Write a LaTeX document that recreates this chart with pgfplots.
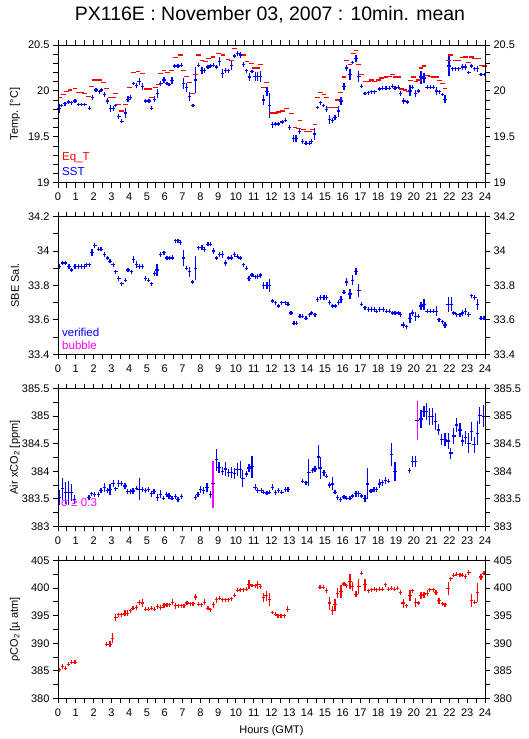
\documentclass[border=0pt]{standalone}
\usepackage{fontspec}
\setmainfont{Liberation Sans}
\usepackage{pgfplots}
\pgfplotsset{compat=1.18}
\definecolor{pblue}{rgb}{0,0,1}
\definecolor{pred}{rgb}{1,0,0}
\definecolor{pmag}{rgb}{1,0,1}
\tikzset{leg/.style={anchor=west, inner sep=0pt, font=\fontsize{11.5}{12}\selectfont}}
\pgfplotsset{
  panel/.style={
    scale only axis, width=427pt, height=137.7pt, anchor=south west,
    xmin=0, xmax=24, xtick={0,...,24}, minor x tick num=1,
    tick align=outside, major tick length=5pt, minor tick length=5pt,
    every tick/.style={black, line width=0.9pt},
    every minor tick/.style={black, line width=0.9pt},
    axis line style={line width=0.9pt},
    every tick label/.append style={font=\fontsize{11}{11}\selectfont},
    xticklabel style={yshift=-2pt},
    /pgf/number format/assume math mode=true,
    scaled ticks=false,
    every axis y label/.style={at={(axis description cs:-0.1007,0.5)}, rotate=90, anchor=center, font=\fontsize{11}{12}\selectfont},
  },
  rlab/.style={yticklabel pos=right, xticklabels={}},
  p1/.style={ymin=19, ymax=20.5, ytick={19,19.5,20,20.5}, minor y tick num=4},
  p2/.style={ymin=33.4, ymax=34.2, ytick={33.4,33.6,33.8,34,34.2}, minor y tick num=1},
  p3/.style={ymin=383, ymax=385.5, ytick={383,383.5,384,384.5,385,385.5}, minor y tick num=1},
  p4/.style={ymin=380, ymax=405, ytick={380,385,390,395,400,405}, minor y tick num=1},
  errp/.style={only marks, mark=-, mark size=1.7pt, line width=1.25pt,
    error bars/.cd, y dir=both, y explicit, error mark=none, error bar style={line width=1.25pt}},
}
\begin{document}
\begin{tikzpicture}
\useasboundingbox (0,0) rectangle (529pt,739pt);
\node[font=\fontsize{19.5}{20}\selectfont] at (270pt,724pt) {PX116E : November 03, 2007 : 10min. mean};

% ---------------- Panel 1
\begin{axis}[panel, p1, at={(58pt,556.3pt)}, ylabel={Temp. [°C]}]
\addplot[pred, only marks, mark=-, mark size=2.4pt, line width=1.25pt] table {
0.11 19.93
0.30 19.96
0.49 19.99
0.67 20.01
0.95 20.03
1.14 19.98
1.33 19.98
1.51 19.97
1.70 19.94
1.89 20.05
2.07 20.12
2.32 20.12
2.54 20.09
2.73 20.03
2.92 19.93
3.10 19.93
3.23 19.97
3.42 19.85
3.59 19.78
3.78 19.85
4.00 20.04
4.26 20.20
4.50 20.21
4.75 20.19
4.97 20.02
5.16 20.02
5.27 19.93
5.46 20.04
5.63 20.07
5.78 20.19
5.96 20.22
6.15 20.20
6.37 20.22
6.62 20.36
6.88 20.39
7.07 20.22
7.21 20.16
7.40 20.09
7.55 19.97
7.74 20.18
7.91 20.39
8.09 20.33
8.28 20.32
8.47 20.35
8.71 20.37
9.03 20.41
9.27 20.39
9.55 20.34
9.74 20.33
9.93 20.46
10.15 20.495
10.43 20.39
10.62 20.32
10.86 20.30
11.04 20.25
11.23 20.25
11.38 20.29
11.55 20.04
11.74 20.09
12.02 19.76
12.22 19.76
12.41 19.77
12.64 19.78
12.86 19.81
13.13 19.75
13.32 19.60
13.51 19.59
13.60 19.68
13.79 19.58
13.97 19.56
14.16 19.56
14.31 19.58
14.44 19.63
14.59 19.93
14.76 19.98
14.95 19.96
15.10 19.93
15.28 19.82
15.47 19.82
15.60 19.82
15.70 19.90
15.88 19.98
16.07 20.15
16.22 20.33
16.41 20.29
16.60 20.41
16.75 20.44
16.91 20.29
17.06 20.18
17.25 20.10
17.44 20.10
17.63 20.12
17.81 20.10
18.00 20.12
18.19 20.14
18.43 20.15
18.62 20.16
18.79 20.18
18.94 20.15
19.12 20.15
19.31 20.02
19.50 20.01
19.69 19.99
19.82 20.11
19.97 20.15
20.12 20.10
20.25 20.12
20.40 20.25
20.57 20.27
20.75 20.17
20.94 20.16
21.12 20.15
21.28 20.15
21.43 20.11
21.60 20.08
21.75 20.03
21.97 20.33
22.06 20.39
22.31 20.33
22.53 20.33
22.74 20.36
22.91 20.37
23.09 20.31
23.24 20.37
23.43 20.35
23.62 20.35
23.81 20.28
23.96 20.27
};
\addplot[pblue, errp] table[x index=0, y index=1, y error index=2] {
0.06 19.81 0.05
0.21 19.84 0.02
0.39 19.86 0.02
0.58 19.88 0.02
0.77 19.87 0.02
0.95 19.89 0.02
1.14 19.85 0.02
1.33 19.85 0.02
1.51 19.85 0.02
1.76 19.81 0.02
1.94 19.93 0.03
2.13 20.01 0.02
2.32 19.99 0.02
2.45 20.01 0.02
2.60 19.96 0.03
2.77 19.89 0.03
2.95 19.81 0.04
3.10 19.81 0.03
3.23 19.84 0.02
3.42 19.72 0.03
3.59 19.67 0.02
3.78 19.76 0.05
3.94 19.91 0.03
4.09 19.93 0.03
4.26 20.08 0.02
4.41 20.06 0.03
4.56 20.10 0.04
4.75 20.05 0.04
4.93 19.89 0.02
5.12 19.89 0.02
5.25 19.81 0.02
5.44 19.91 0.03
5.59 19.97 0.05
5.78 20.08 0.03
5.96 20.12 0.03
6.13 20.08 0.02
6.24 20.07 0.02
6.41 20.11 0.04
6.56 20.27 0.02
6.75 20.27 0.02
6.93 20.28 0.02
7.07 20.08 0.06
7.21 20.04 0.05
7.40 19.94 0.05
7.59 19.84 0.02
7.74 20.12 0.14
7.91 20.28 0.02
8.09 20.22 0.04
8.24 20.22 0.03
8.43 20.26 0.02
8.58 20.27 0.02
8.75 20.28 0.02
8.90 20.26 0.02
9.08 20.32 0.05
9.23 20.19 0.05
9.42 20.22 0.03
9.59 20.22 0.02
9.74 20.28 0.05
9.93 20.38 0.02
10.11 20.41 0.03
10.26 20.39 0.03
10.43 20.29 0.03
10.58 20.22 0.02
10.77 20.15 0.04
10.90 20.21 0.02
11.08 20.16 0.05
11.23 20.16 0.05
11.38 20.16 0.06
11.55 19.90 0.05
11.74 19.99 0.05
11.89 19.84 0.14
12.04 19.63 0.03
12.22 19.64 0.02
12.41 19.64 0.02
12.60 19.66 0.02
12.79 19.68 0.02
13.00 19.60 0.03
13.22 19.48 0.04
13.37 19.48 0.04
13.56 19.56 0.03
13.75 19.45 0.03
13.94 19.43 0.02
14.12 19.43 0.02
14.25 19.45 0.03
14.40 19.53 0.07
14.59 19.82 0.02
14.76 19.87 0.02
14.91 19.84 0.02
15.10 19.80 0.03
15.25 19.69 0.05
15.42 19.68 0.03
15.57 19.71 0.03
15.75 19.78 0.06
15.90 19.89 0.04
16.07 20.05 0.04
16.22 20.25 0.03
16.41 20.18 0.06
16.56 20.31 0.02
16.75 20.35 0.04
16.91 20.16 0.06
17.06 20.05 0.02
17.25 19.97 0.02
17.44 19.98 0.02
17.63 19.99 0.02
17.81 19.99 0.02
18.06 20.02 0.02
18.24 20.03 0.02
18.43 20.03 0.02
18.62 20.03 0.02
18.79 20.05 0.02
18.94 20.03 0.02
19.12 20.04 0.02
19.25 19.97 0.03
19.44 19.89 0.03
19.63 19.88 0.02
19.78 20.00 0.06
19.93 20.04 0.02
20.10 19.97 0.04
20.25 20.00 0.02
20.40 20.15 0.07
20.57 20.14 0.05
20.75 20.04 0.02
20.94 20.04 0.02
21.09 20.04 0.02
21.28 20.00 0.04
21.43 19.99 0.02
21.60 19.96 0.02
21.75 19.91 0.04
21.97 20.27 0.11
22.16 20.24 0.02
22.34 20.24 0.02
22.53 20.24 0.02
22.72 20.26 0.03
22.91 20.26 0.03
23.09 20.20 0.02
23.24 20.27 0.02
23.43 20.24 0.02
23.58 20.24 0.03
23.77 20.18 0.02
23.96 20.18 0.02
};
\node[leg, text=pred] at (axis description cs:0.0094,0.179) {Eq\_T};
\node[leg, text=pblue] at (axis description cs:0.0094,0.078) {SST};
\end{axis}
\begin{axis}[panel, p1, rlab, at={(58pt,556.3pt)}]
\end{axis}

% ---------------- Panel 2
\begin{axis}[panel, p2, at={(58pt,384.7pt)}, ylabel={SBE Sal.}]
\addplot[pblue, errp] table[x index=0, y index=1, y error index=2] {
0.07 33.91 0.012
0.24 33.93 0.012
0.43 33.93 0.012
0.62 33.91 0.012
0.77 33.89 0.012
0.95 33.91 0.012
1.14 33.91 0.012
1.33 33.91 0.012
1.48 33.91 0.012
1.61 33.92 0.012
1.76 33.92 0.012
1.91 33.99 0.02
2.07 34.03 0.015
2.26 34.01 0.012
2.41 34.01 0.012
2.60 33.98 0.012
2.77 33.96 0.012
2.92 33.94 0.012
3.10 33.92 0.012
3.25 33.88 0.012
3.42 33.84 0.012
3.59 33.81 0.012
3.78 33.83 0.012
3.94 33.89 0.012
4.13 33.88 0.012
4.26 33.95 0.02
4.41 33.92 0.02
4.56 33.91 0.015
4.75 33.91 0.015
4.92 33.84 0.015
5.10 33.83 0.012
5.25 33.81 0.012
5.44 33.87 0.015
5.57 33.89 0.035
5.76 33.98 0.015
5.96 33.99 0.012
6.13 33.96 0.012
6.28 33.96 0.012
6.43 33.96 0.015
6.60 34.06 0.012
6.75 34.06 0.012
6.90 34.05 0.015
7.07 33.96 0.045
7.21 33.90 0.012
7.40 33.88 0.03
7.55 33.82 0.012
7.74 33.90 0.07
7.91 34.02 0.012
8.09 34.02 0.015
8.24 34.01 0.015
8.43 34.04 0.012
8.58 34.04 0.012
8.75 34.00 0.015
8.90 33.96 0.012
9.08 33.98 0.015
9.23 33.98 0.02
9.42 33.93 0.015
9.59 33.96 0.012
9.74 33.96 0.015
9.93 33.98 0.012
10.07 33.97 0.012
10.24 33.96 0.012
10.43 33.92 0.012
10.58 33.90 0.012
10.73 33.84 0.015
10.90 33.86 0.012
11.08 33.85 0.012
11.23 33.85 0.015
11.38 33.86 0.015
11.55 33.80 0.02
11.74 33.80 0.02
11.89 33.80 0.04
12.04 33.71 0.012
12.22 33.70 0.012
12.41 33.68 0.012
12.58 33.70 0.012
12.77 33.70 0.012
12.93 33.69 0.012
13.09 33.64 0.012
13.26 33.58 0.012
13.41 33.58 0.012
13.60 33.62 0.012
13.75 33.62 0.012
13.94 33.61 0.012
14.12 33.63 0.012
14.25 33.64 0.012
14.44 33.63 0.012
14.59 33.72 0.015
14.76 33.73 0.012
14.95 33.73 0.012
15.10 33.73 0.015
15.25 33.70 0.015
15.43 33.68 0.012
15.60 33.68 0.012
15.75 33.70 0.015
15.90 33.72 0.02
16.07 33.76 0.012
16.22 33.82 0.025
16.41 33.75 0.03
16.56 33.83 0.03
16.75 33.88 0.02
16.91 33.77 0.04
17.06 33.69 0.012
17.25 33.67 0.012
17.44 33.66 0.012
17.63 33.66 0.012
17.78 33.66 0.012
17.91 33.65 0.012
18.09 33.66 0.012
18.28 33.66 0.012
18.47 33.65 0.012
18.62 33.65 0.012
18.79 33.64 0.012
18.94 33.64 0.012
19.12 33.64 0.012
19.25 33.63 0.015
19.40 33.57 0.015
19.59 33.56 0.012
19.78 33.61 0.03
19.93 33.64 0.015
20.10 33.62 0.025
20.25 33.62 0.012
20.40 33.68 0.025
20.57 33.69 0.03
20.75 33.65 0.012
20.94 33.65 0.012
21.09 33.65 0.012
21.28 33.65 0.03
21.41 33.60 0.012
21.60 33.59 0.012
21.75 33.57 0.015
21.93 33.69 0.045
22.12 33.69 0.04
22.25 33.64 0.012
22.40 33.63 0.012
22.59 33.63 0.012
22.74 33.64 0.015
22.91 33.65 0.02
23.09 33.63 0.015
23.24 33.74 0.012
23.43 33.73 0.012
23.58 33.69 0.03
23.77 33.61 0.012
23.94 33.61 0.012
};
\node[leg, text=pblue] at (axis description cs:0.0094,0.162) {verified};
\node[leg, text=pmag] at (axis description cs:0.0094,0.068) {bubble};
\end{axis}
\begin{axis}[panel, p2, rlab, at={(58pt,384.7pt)}]
\end{axis}

% ---------------- Panel 3
\begin{axis}[panel, p3, at={(58pt,212.7pt)}, ylabel={Air xCO\textsubscript{2} [ppm]}]
\addplot[pblue, errp] table[x index=0, y index=1, y error index=2] {
0.07 383.52 0.14
0.26 383.68 0.2
0.43 383.61 0.2
0.58 383.61 0.22
0.77 383.61 0.15
0.92 383.48 0.08
1.74 383.52 0.04
1.89 383.59 0.04
2.04 383.58 0.04
2.26 383.58 0.04
2.41 383.65 0.04
2.60 383.70 0.08
2.77 383.65 0.04
2.92 383.67 0.1
3.10 383.78 0.06
3.25 383.68 0.04
3.42 383.78 0.06
3.57 383.78 0.04
3.76 383.73 0.05
3.91 383.63 0.05
4.07 383.63 0.04
4.22 383.64 0.05
4.41 383.69 0.04
4.56 383.67 0.2
4.75 383.67 0.04
4.93 383.65 0.04
5.10 383.67 0.04
5.25 383.59 0.05
5.40 383.63 0.05
5.59 383.52 0.06
5.76 383.58 0.07
5.94 383.51 0.04
6.09 383.58 0.04
6.24 383.55 0.05
6.41 383.51 0.04
6.60 383.54 0.04
6.75 383.49 0.04
6.93 383.54 0.04
7.72 383.52 0.04
7.87 383.58 0.05
8.02 383.67 0.07
8.19 383.65 0.06
8.37 383.70 0.08
8.56 383.58 0.06
8.90 384.21 0.2
9.05 384.07 0.1
9.23 384.00 0.07
9.40 384.04 0.12
9.59 383.97 0.07
9.74 383.97 0.1
9.93 383.96 0.1
10.07 384.03 0.12
10.24 384.03 0.15
10.39 383.87 0.15
10.58 383.95 0.05
10.73 384.06 0.07
10.90 384.08 0.2
11.08 383.71 0.05
11.23 383.65 0.04
11.42 383.65 0.04
11.57 383.62 0.04
11.74 383.60 0.04
11.89 383.62 0.04
12.04 383.71 0.05
12.22 383.61 0.04
12.41 383.65 0.04
12.58 383.62 0.04
12.77 383.67 0.05
12.93 383.67 0.04
13.75 383.82 0.04
13.94 383.79 0.04
14.10 383.98 0.25
14.29 384.01 0.05
14.44 384.04 0.05
14.63 384.26 0.22
14.76 384.06 0.2
14.95 383.97 0.05
15.10 383.91 0.04
15.25 383.75 0.06
15.42 383.77 0.12
15.57 383.62 0.04
15.72 383.52 0.05
15.88 383.49 0.04
16.07 383.53 0.04
16.22 383.51 0.04
16.41 383.51 0.04
16.56 383.55 0.04
16.75 383.59 0.05
16.91 383.59 0.05
17.06 383.55 0.04
17.25 383.51 0.06
17.40 383.77 0.28
17.59 383.64 0.04
17.76 383.67 0.04
17.91 383.67 0.04
18.06 383.77 0.08
18.22 383.79 0.05
18.41 383.83 0.06
18.56 383.82 0.04
18.75 384.30 0.21
18.94 383.99 0.17
19.74 384.01 0.04
19.93 384.17 0.1
20.08 384.17 0.1
20.40 384.95 0.17
20.57 385.08 0.1
20.72 385.08 0.15
20.90 384.99 0.15
21.06 384.99 0.15
21.22 384.90 0.15
21.37 384.75 0.1
21.56 384.58 0.1
21.75 384.58 0.12
21.93 384.55 0.15
22.08 384.33 0.1
22.25 384.64 0.15
22.40 384.84 0.12
22.59 384.75 0.12
22.74 384.55 0.1
22.91 384.61 0.12
23.09 384.51 0.18
23.24 384.72 0.18
23.39 384.48 0.15
23.58 384.69 0.22
23.71 385.01 0.15
23.90 385.00 0.2
};
\addplot[pmag, errp, /tikz/mark size=0.2pt] table[x index=0, y index=1, y error index=2] {
8.71 383.76 0.43
20.22 384.92 0.36
};
\addplot[pblue, only marks, mark=-, mark size=1.7pt, line width=1.25pt] table {
8.71 383.78
20.17 384.92
};
\node[leg, text=pmag] at (axis description cs:0.007,0.169) {σ ≥ 0.3};
\end{axis}
\begin{axis}[panel, p3, rlab, at={(58pt,212.7pt)}]
\end{axis}

% ---------------- Panel 4
\begin{axis}[panel, p4, at={(58pt,40.7pt)}, ylabel={ρCO\textsubscript{2} [µ atm]},
  xlabel={Hours (GMT)}, xlabel style={at={(axis description cs:0.5,-0.2376)}, anchor=center, font=\fontsize{11}{12}\selectfont}]
\addplot[pred, errp] table[x index=0, y index=1, y error index=2] {
0.07 385.17 0.4
0.24 385.78 0.5
0.43 385.47 0.4
0.58 386.20 0.36
0.77 386.56 0.36
0.95 386.56 0.36
2.73 389.83 0.36
2.92 389.83 0.5
3.07 390.92 0.9
3.25 394.67 0.7
3.42 395.16 0.36
3.59 395.16 0.36
3.76 395.46 0.5
3.91 395.46 0.5
4.07 395.88 0.4
4.22 396.37 0.4
4.41 396.49 0.4
4.56 397.40 0.5
4.75 397.28 0.7
4.93 396.19 0.36
5.10 396.19 0.36
5.25 396.37 0.4
5.44 396.19 0.4
5.59 396.67 0.5
5.78 396.49 0.5
5.96 396.85 0.4
6.13 396.97 0.36
6.28 396.97 0.36
6.43 397.46 0.6
6.60 396.79 0.6
6.79 396.79 0.36
6.93 396.79 0.36
7.08 396.79 0.36
7.25 397.28 0.36
7.44 397.15 0.4
7.59 397.15 0.4
7.74 398.37 0.6
7.91 397.09 0.36
8.06 396.97 0.4
8.24 397.46 0.5
8.43 396.37 0.36
8.58 396.07 0.36
8.75 396.97 0.6
8.90 397.88 0.5
9.08 398.18 0.4
9.23 397.88 0.36
9.42 397.88 0.36
9.59 397.88 0.36
9.74 398.06 0.4
9.93 398.67 0.36
10.11 399.58 0.36
10.26 399.70 0.36
10.43 399.70 0.36
10.58 399.82 0.36
10.73 400.60 0.8
10.90 400.48 0.36
11.08 400.42 0.36
11.23 400.60 0.7
11.38 400.30 0.5
11.55 398.30 0.9
11.70 398.60 0.9
11.89 397.88 1.2
12.04 395.58 0.36
12.21 395.28 0.36
12.36 394.98 0.36
12.54 394.98 0.36
12.73 394.98 0.36
12.92 396.19 0.5
14.72 400.18 0.36
14.91 400.12 0.36
15.10 399.58 0.5
15.25 397.28 1.2
15.42 395.94 0.9
15.57 396.97 1.1
15.72 399.09 0.9
15.90 399.39 1.1
16.07 400.73 0.4
16.22 400.42 0.4
16.41 401.21 1.4
16.56 400.30 0.8
16.75 398.91 0.5
16.91 400.30 1.3
17.06 402.72 0.36
17.25 400.60 1.1
17.44 399.52 0.36
17.63 399.70 0.36
17.78 399.82 0.36
17.91 399.70 0.36
18.09 399.82 0.36
18.24 399.82 0.36
18.41 400.60 0.36
18.56 399.82 0.36
18.75 400.00 0.4
18.90 399.82 0.36
19.07 400.00 0.36
19.25 399.21 0.5
19.40 397.28 0.8
19.59 396.79 0.36
19.78 398.61 1.0
19.93 399.52 0.4
20.10 397.46 0.8
20.25 397.28 0.4
20.40 398.67 0.6
20.57 398.79 0.5
20.75 399.09 0.6
20.90 399.70 0.4
21.09 399.70 0.36
21.24 399.21 0.5
21.41 397.70 0.5
21.60 397.15 0.36
21.75 396.97 0.36
21.93 400.00 1.2
22.08 401.69 0.4
22.25 402.30 0.36
22.40 402.54 0.36
22.59 402.42 0.36
22.74 402.30 0.36
22.91 402.12 0.5
23.09 402.85 0.5
23.24 397.76 1.2
23.43 397.40 0.36
23.58 399.21 1.8
23.77 402.00 0.5
23.94 402.72 0.36
};
\end{axis}
\begin{axis}[panel, p4, rlab, at={(58pt,40.7pt)}]
\end{axis}
\end{tikzpicture}
\end{document}
